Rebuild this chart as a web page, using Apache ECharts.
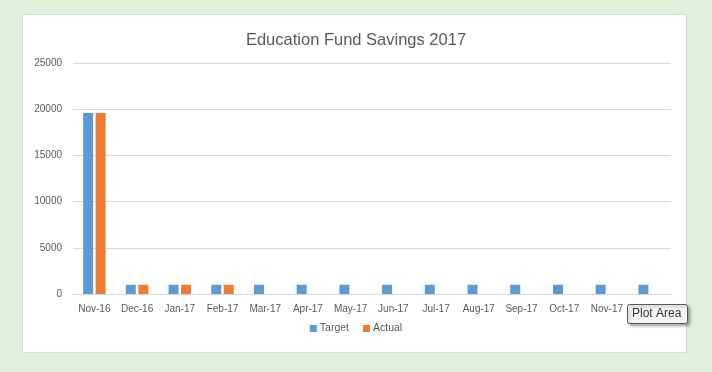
<!DOCTYPE html>
<html><head><meta charset="utf-8">
<script src="https://cdn.jsdelivr.net/npm/echarts@6/dist/echarts.min.js"></script>
<style>html,body{margin:0;padding:0;background:#e2efda;}#c{width:712px;height:372px;}</style>
</head><body><div id="c"></div>
<script>
const categories = ["Nov-16","Dec-16","Jan-17","Feb-17","Mar-17","Apr-17","May-17","Jun-17","Jul-17","Aug-17","Sep-17","Oct-17","Nov-17","Dec-17"];
const target = [19600,1000,1000,1000,1000,1000,1000,1000,1000,1000,1000,1000,1000,1000];
const actual = [19600,1000,1000,1000,null,null,null,null,null,null,null,null,null,null];
const yTicks = {min:0,max:25000,interval:5000};
const FONT = "'Liberation Sans',sans-serif";
const chart = echarts.init(document.getElementById('c'));
chart.setOption({
  backgroundColor:'#e2efda',
  animation:false,
  graphic:[
    {type:'rect',z:-10,shape:{x:22.5,y:14.5,width:664,height:338},style:{fill:'#ffffff',stroke:'#d9d9d9',lineWidth:1}},
    {type:'rect',z:100,shape:{x:627.5,y:304.5,width:60,height:19,r:2},style:{fill:'#f7f7fa',stroke:'#555',lineWidth:1,shadowBlur:3,shadowOffsetX:2,shadowOffsetY:2,shadowColor:'rgba(0,0,0,0.35)'}},
    {type:'text',z:101,left:632,top:308,style:{text:'Plot Area',fill:'#333',font:"12px "+FONT}}
  ],
  title:{text:'Education Fund Savings 2017',left:'center',top:27,
    textStyle:{fontFamily:FONT,fontSize:16.5,fontWeight:'normal',color:'#595959'}},
  legend:{bottom:33,left:'center',itemWidth:7,itemHeight:7,itemGap:14,icon:'rect',
    textStyle:{fontFamily:FONT,fontSize:10.5,color:'#595959',padding:[0,0,0,-2]}},
  grid:{left:73,right:41,top:63,bottom:78},
  xAxis:{type:'category',data:categories,
    axisLine:{lineStyle:{color:'#d9d9d9'}},axisTick:{show:false},
    axisLabel:{fontFamily:FONT,fontSize:10,color:'#595959',margin:10,interval:0}},
  yAxis:{type:'value',min:yTicks.min,max:yTicks.max,interval:yTicks.interval,
    axisLine:{show:false},axisTick:{show:false},
    splitLine:{lineStyle:{color:'#d9d9d9'}},
    axisLabel:{fontFamily:FONT,fontSize:10,color:'#595959',margin:11,formatter:v=>String(v)}},
  series:[
    {name:'Target',type:'bar',data:target,barWidth:10,barGap:'25%',itemStyle:{color:'#5b9bd5'}},
    {name:'Actual',type:'bar',data:actual,barWidth:10,itemStyle:{color:'#ed7d31'}}
  ]
});
</script></body></html>
